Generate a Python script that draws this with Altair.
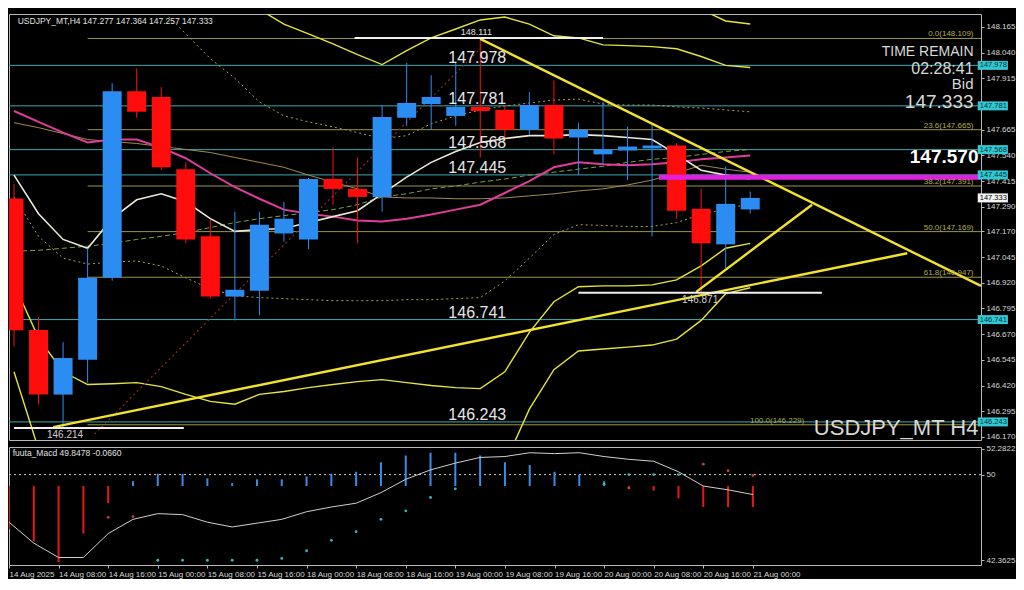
import altair as alt
import pandas as pd

# ---------------- data ----------------
bar_idx = list(range(31))
opens = [147.330, 146.690, 146.376, 146.545, 146.944, 147.852, 147.824, 147.473, 147.146, 146.853,
         146.881, 147.160, 147.131, 147.425, 147.377, 147.338, 147.723, 147.790, 147.732, 147.776,
         147.761, 147.665, 147.785, 147.627, 147.545, 147.564, 147.574, 147.588, 147.280, 147.107, 147.277]
highs = [147.400, 146.752, 146.631, 147.088, 147.891, 147.963, 147.872, 147.506, 147.227, 147.266,
         147.266, 147.314, 147.430, 147.579, 147.530, 147.785, 147.990, 147.930, 147.990, 148.111,
         147.780, 147.848, 147.905, 147.699, 147.800, 147.680, 147.690, 147.600, 147.377, 147.487, 147.364]
lows = [146.610, 146.328, 146.214, 146.434, 146.930, 147.723, 147.468, 147.112, 146.843, 146.737,
        146.761, 147.120, 147.083, 147.300, 147.112, 147.266, 147.684, 147.665, 147.684, 147.530,
        147.620, 147.640, 147.545, 147.444, 147.497, 147.420, 147.146, 147.232, 146.871, 146.992, 147.257]
closes = [146.689, 146.376, 146.554, 146.944, 147.852, 147.752, 147.482, 147.131, 146.853, 146.886,
          147.203, 147.232, 147.425, 147.377, 147.338, 147.727, 147.795, 147.824, 147.776, 147.756,
          147.665, 147.785, 147.622, 147.665, 147.569, 147.583, 147.588, 147.271, 147.112, 147.304, 147.333]

band_up2 = [148.70, 148.72, 148.74, 148.70, 148.62, 148.55, 148.48, 148.42, 148.36, 148.30,
            148.25, 148.179, 148.131, 148.083, 148.030, 147.982, 148.050, 148.112, 148.155, 148.199,
            148.213, 148.179, 148.122, 148.112, 148.078, 148.074, 148.069, 148.059, 148.021, 147.978, 147.968]
band_up3 = [149.10, 149.15, 149.18, 149.12, 149.00, 148.95, 148.90, 148.82, 148.75, 148.68,
            148.60, 148.52, 148.48, 148.45, 148.42, 148.40, 148.42, 148.45, 148.50, 148.54,
            148.56, 148.52, 148.46, 148.43, 148.40, 148.38, 148.36, 148.31, 148.25, 148.194, 148.179]
band_lo2 = [146.915, 146.651, 146.487, 146.425, 146.429, 146.434, 146.415, 146.377, 146.343, 146.329,
            146.377, 146.391, 146.410, 146.425, 146.439, 146.449, 146.434, 146.420, 146.410, 146.405,
            146.487, 146.679, 146.828, 146.901, 146.905, 146.905, 146.910, 146.934, 147.002, 147.088, 147.112]
band_lo3 = [146.487, 146.110, 145.950, 145.900, 145.920, 145.930, 145.920, 145.900, 145.880, 145.860,
            145.900, 145.920, 145.940, 145.950, 145.960, 145.970, 145.960, 145.950, 145.950, 145.960,
            146.040, 146.305, 146.497, 146.588, 146.598, 146.607, 146.617, 146.646, 146.737, 146.867, 146.896]
ma_pink = [147.756, 147.703, 147.651, 147.603, 147.617, 147.617, 147.578, 147.526, 147.453, 147.386,
           147.329, 147.276, 147.256, 147.242, 147.223, 147.218, 147.232, 147.252, 147.276, 147.300,
           147.357, 147.415, 147.482, 147.506, 147.497, 147.492, 147.497, 147.506, 147.521, 147.530, 147.540]
ma_white = [147.444, 147.256, 147.131, 147.088, 147.232, 147.324, 147.353, 147.314, 147.232, 147.170,
            147.179, 147.184, 147.213, 147.242, 147.271, 147.353, 147.434, 147.506, 147.559, 147.603,
            147.622, 147.636, 147.636, 147.641, 147.636, 147.627, 147.617, 147.545, 147.468, 147.444, 147.425]
ma_tan = [147.699, 147.675, 147.646, 147.617, 147.607, 147.598, 147.583, 147.569, 147.554, 147.530,
          147.506, 147.482, 147.444, 147.410, 147.377, 147.338, 147.333, 147.333, 147.329, 147.329,
          147.333, 147.343, 147.353, 147.367, 147.377, 147.396, 147.420, 147.453, 147.492, 147.473, 147.458]
ma_green = [147.074, 147.078, 147.088, 147.098, 147.112, 147.131, 147.146, 147.165, 147.189, 147.213,
            147.232, 147.247, 147.261, 147.276, 147.300, 147.338, 147.353, 147.377, 147.391, 147.410,
            147.425, 147.444, 147.458, 147.473, 147.487, 147.506, 147.521, 147.530, 147.545, 147.559, 147.569]
env_up = [148.70, 148.75, 148.78, 148.70, 148.55, 148.40, 148.252, 148.131, 148.011, 147.915,
          147.800, 147.732, 147.703, 147.679, 147.651, 147.622, 147.636, 147.694, 147.732, 147.761,
          147.780, 147.795, 147.809, 147.814, 147.790, 147.785, 147.785, 147.776, 147.771, 147.761, 147.752]
env_lo = [147.338, 147.146, 147.040, 147.011, 147.021, 147.026, 147.002, 146.944, 146.891, 146.857,
          146.848, 146.843, 146.838, 146.833, 146.833, 146.833, 146.838, 146.838, 146.843, 146.848,
          146.929, 147.040, 147.155, 147.203, 147.199, 147.194, 147.194, 147.213, 147.252, 147.280, 147.304]

macd_hist = [45.16, 44.06, 42.19, 44.74, 47.45, 49.41, 50.08, 50.08, 49.66, 49.24,
             49.58, 49.58, 49.83, 50.08, 50.25, 51.10, 51.70, 51.95, 51.95, 51.70,
             51.10, 50.85, 50.25, 50.00, 49.41, 48.73, 48.56, 47.88, 47.11, 47.11, 47.11]
macd_line = [45.76, 43.89, 42.61, 42.61, 44.74, 46.01, 46.52, 46.43, 45.76, 45.33,
             45.67, 46.01, 46.69, 47.11, 47.45, 48.39, 49.58, 50.42, 51.02, 51.53,
             51.61, 51.95, 51.87, 51.95, 51.61, 51.36, 51.19, 50.25, 48.98, 48.64, 48.22]
macd_base = 48.98
cyan_dot_idx = [6, 7, 8, 9, 10, 11, 12, 13, 14, 15, 16, 17, 18, 24, 25, 26, 27]
cyan_dot_val = [42.36, 42.36, 42.36, 42.36, 42.36, 42.53, 43.21, 44.14, 44.91, 46.01, 46.77, 47.96, 48.73,
                49.15, 50.0, 50.0, 50.0]
red_dot_idx = [4, 5, 25, 28, 29, 30]
red_dot_val = [46.18, 46.26, 48.81, 50.93, 50.34, 49.92]

level_prices = [147.978, 147.781, 147.568, 147.445, 146.741, 146.243]
level_texts = ["147.978", "147.781", "147.568", "147.445", "146.741", "146.243"]
fib_prices = [148.109, 147.665, 147.391, 147.169, 146.947, 146.229]
fib_texts = ["0.0(148.109)", "23.6(147.665)", "38.2(147.391)", "50.0(147.169)", "61.8(146.947)", "100.0(146.229)"]
fib_start, fib_end = 3.0, 40.0

trend_x1 = [19.0, 1.6, 27.8]
trend_x2 = [39.4, 36.4, 32.52]
trend_p1 = [148.107, 146.218, 146.876]
trend_p2 = [146.905, 147.064, 147.300]

white_seg_x1 = [13.88, 0.0, 23.0]
white_seg_x2 = [24.0, 6.92, 32.92]
white_seg_p = [148.111, 146.214, 146.871]
white_seg_t = ["148.111", "146.214", "146.871"]
white_seg_tx = [18.84, 2.08, 27.96]

magenta_x1, magenta_x2, magenta_p = 26.28, 40.0, 147.434
zz_x = [3.28, 19.0]
zz_p = [146.184, 148.059]

price_ticks = [148.165, 148.040, 147.915, 147.665, 147.540, 147.415, 147.290, 147.170, 147.045,
               146.920, 146.795, 146.670, 146.545, 146.420, 146.295, 146.170]
time_labels = ["14 Aug 2025", "14 Aug 08:00", "14 Aug 16:00", "15 Aug 00:00", "15 Aug 08:00",
               "15 Aug 16:00", "18 Aug 00:00", "18 Aug 08:00", "18 Aug 16:00", "19 Aug 00:00",
               "19 Aug 08:00", "19 Aug 16:00", "20 Aug 00:00", "20 Aug 08:00", "20 Aug 16:00", "21 Aug 00:00"]
macd_ticks = [52.2822, 50.0, 42.3625]

header_main = "USDJPY_MT,H4  147.277 147.364 147.257 147.333"
header_macd = "fuuta_Macd 49.8478    -0.0660"
info_texts = ["TIME REMAIN", "02:28:41", "Bid", "147.333"]
info_prices = [148.045, 147.962, 147.887, 147.800]
info_sizes = [14, 16, 15, 19]

tag_prices = level_prices
tag_texts = level_texts
bid_price, bid_text = 147.333, "147.333"

# ---------------- scales / axes ----------------
FONT = "Liberation Sans"
PLOT_W, MAIN_H, MACD_H = 972, 426, 118
xs = alt.Scale(domain=[0, 39.2], nice=False, zero=False)
ys = alt.Scale(domain=[146.155, 148.228], nice=False, zero=False)
ms = alt.Scale(domain=[41.94, 52.46], nice=False, zero=False)

yax = alt.Axis(orient="right", values=price_ticks, format=".3f", title=None, grid=False,
               domain=False, tickSize=3, tickColor="#bbbbbb", labelColor="#d8d8d8",
               labelFontSize=8, labelFont=FONT, labelPadding=2, labelOverlap=False,
               labelBound=False, labelFlush=False)
max_ = alt.Axis(orient="right", values=macd_ticks, format=".4~f", title=None, grid=False,
                domain=False, tickSize=3, tickColor="#bbbbbb", labelColor="#d8d8d8",
                labelFontSize=8, labelFont=FONT, labelPadding=2, labelOverlap=False,
                labelBound=False, labelFlush=False)
lab_expr = "[" + ",".join("'%s'" % s for s in time_labels) + "][round(datum.value/2)]"
xax = alt.Axis(values=list(range(0, 31, 2)), labelExpr=lab_expr, title=None, grid=False,
               domain=False, tickSize=3, tickColor="#bbbbbb", labelColor="#d8d8d8",
               labelFontSize=8, labelFont=FONT, labelAlign="left", labelPadding=2,
               labelOverlap=False, labelBound=False, labelFlush=False)


def MX(f):
    return alt.X(f, type="quantitative", scale=xs, axis=None)


def MY(f):
    return alt.Y(f, type="quantitative", scale=ys, axis=yax)


def line_layer(vals, color, width, dash=None):
    df = pd.DataFrame({"idx": bar_idx, "p": vals})
    kw = dict(color=color, strokeWidth=width, clip=True)
    if dash:
        kw["strokeDash"] = dash
    return alt.Chart(df).mark_line(**kw).encode(x=MX("idx"), y=MY("p"))


def text_layer(df, size, color, align, baseline, dx=0, dy=0, weight="normal"):
    return alt.Chart(df).mark_text(font=FONT, fontSize=size, color=color, align=align,
                                   baseline=baseline, dx=dx, dy=dy, fontWeight=weight).encode(
        x=MX("x"), y=MY("y"), text="t:N")


layers = []

# fibonacci
fib_df = pd.DataFrame({"x": [fib_start] * 6, "x2": [fib_end] * 6, "y": fib_prices, "t": fib_texts})
layers.append(alt.Chart(fib_df).mark_rule(color="#9c9640", strokeWidth=1, clip=True).encode(
    x=MX("x"), x2="x2", y=MY("y")))
# cyan level lines
lvl_df = pd.DataFrame({"y": level_prices, "t": level_texts})
layers.append(alt.Chart(lvl_df).mark_rule(color="#3aa9b0", strokeWidth=1).encode(y=MY("y")))

# indicator lines
layers.append(line_layer(env_up, "#a8a050", 1, [2, 3]))
layers.append(line_layer(env_lo, "#a8a050", 1, [2, 3]))
layers.append(line_layer(ma_green, "#7aa040", 1, [5, 3]))
layers.append(line_layer(ma_tan, "#a08a50", 1))
layers.append(line_layer(band_up2, "#e4e43a", 1.4))
layers.append(line_layer(band_up3, "#e4e43a", 1.4))
layers.append(line_layer(band_lo2, "#e4e43a", 1.4))
layers.append(line_layer(band_lo3, "#e4e43a", 1.4))
layers.append(line_layer(ma_pink, "#e03c9c", 2))
layers.append(line_layer(ma_white, "#ece8d8", 1.6))

# zigzag-like red dotted line
zz_df = pd.DataFrame({"x": [zz_x[0]], "x2": [zz_x[1]], "y": [zz_p[0]], "y2": [zz_p[1]]})
layers.append(alt.Chart(zz_df).mark_rule(color="#8a2a2a", strokeWidth=1.2, strokeDash=[2, 3], clip=True).encode(
    x=MX("x"), x2="x2", y=MY("y"), y2="y2"))

# candles
cdf = pd.DataFrame({"idx": bar_idx, "o": opens, "h": highs, "l": lows, "c": closes})
cdf["dir"] = ["up" if c >= o else "down" for o, c in zip(opens, closes)]
cscale = alt.Scale(domain=["up", "down"], range=["#2b8cf2", "#ff0d0d"])
layers.append(alt.Chart(cdf).mark_rule(strokeWidth=1, clip=True).encode(
    x=MX("idx"), y=MY("l"), y2="h", color=alt.Color("dir:N", scale=cscale, legend=None)))
layers.append(alt.Chart(cdf).mark_bar(width=19, clip=True).encode(
    x=MX("idx"), y=MY("o"), y2="c", color=alt.Color("dir:N", scale=cscale, legend=None)))

# trend lines
tr_df = pd.DataFrame({"x": trend_x1, "x2": trend_x2, "y": trend_p1, "y2": trend_p2})
layers.append(alt.Chart(tr_df).mark_rule(color="#f2e22e", strokeWidth=2.4, clip=True).encode(
    x=MX("x"), x2="x2", y=MY("y"), y2="y2"))

# white horizontal segments
ws_df = pd.DataFrame({"x": white_seg_x1, "x2": white_seg_x2, "y": white_seg_p})
layers.append(alt.Chart(ws_df).mark_rule(color="#f0f0f0", strokeWidth=2, clip=True).encode(
    x=MX("x"), x2="x2", y=MY("y")))

# magenta thick line
mg_df = pd.DataFrame({"x": [magenta_x1], "x2": [magenta_x2], "y": [magenta_p]})
layers.append(alt.Chart(mg_df).mark_rule(color="#e020e0", strokeWidth=5, clip=True).encode(
    x=MX("x"), x2="x2", y=MY("y")))

# texts
layers.append(text_layer(pd.DataFrame({"x": [17.7] * 6, "y": level_prices, "t": level_texts}),
                         16, "#e6e6e6", "left", "alphabetic", dy=-2))
layers.append(text_layer(pd.DataFrame({"x": [39.1] * 5, "y": fib_prices[:5], "t": fib_texts[:5]}),
                         8, "#b4ac48", "right", "alphabetic", dy=-2))
layers.append(text_layer(pd.DataFrame({"x": [32.2], "y": fib_prices[5:], "t": fib_texts[5:]}),
                         8, "#b4ac48", "right", "alphabetic", dy=-2))
layers.append(text_layer(pd.DataFrame({"x": white_seg_tx[:1], "y": white_seg_p[:1], "t": white_seg_t[:1]}),
                         9, "#e0e0e0", "center", "alphabetic", dy=-3))
layers.append(text_layer(pd.DataFrame({"x": white_seg_tx[1:], "y": white_seg_p[1:], "t": white_seg_t[1:]}),
                         10, "#d0d0d0", "center", "top", dy=2))
layers.append(text_layer(pd.DataFrame({"x": [0.15], "y": [148.194], "t": [header_main]}),
                         8.5, "#e0e0e0", "left", "middle"))
for t, p, s in zip(info_texts, info_prices, info_sizes):
    layers.append(text_layer(pd.DataFrame({"x": [39.1], "y": [p], "t": [t]}), s, "#d8d8d8", "right", "middle"))
layers.append(text_layer(pd.DataFrame({"x": [39.3], "y": [147.530], "t": ["147.570"]}),
                         19, "#ffffff", "right", "middle", weight="bold"))
layers.append(text_layer(pd.DataFrame({"x": [39.3], "y": [146.213], "t": ["USDJPY_MT H4"]}),
                         22, "#d8d8d8", "right", "middle"))

# right-side price tags
tag_df = pd.DataFrame({"x": [39.27] * 6, "x2": [40.5] * 6, "y": tag_prices, "t": tag_texts})
layers.append(alt.Chart(tag_df).mark_rule(strokeWidth=9, color="#30c8d2").encode(
    x=MX("x"), x2="x2", y=MY("y")))
layers.append(alt.Chart(tag_df).mark_text(font=FONT, fontSize=7.5, align="left", baseline="middle",
                                          color="#0c3038", dx=2).encode(x=MX("x"), y=MY("y"), text="t:N"))
bid_df = pd.DataFrame({"x": [39.27], "x2": [40.5], "y": [bid_price], "t": [bid_text]})
layers.append(alt.Chart(bid_df).mark_rule(strokeWidth=9, color="#f4f4f4").encode(
    x=MX("x"), x2="x2", y=MY("y")))
layers.append(alt.Chart(bid_df).mark_text(font=FONT, fontSize=7.5, align="left", baseline="middle",
                                          color="#000000", dx=2).encode(x=MX("x"), y=MY("y"), text="t:N"))

main = alt.layer(*layers).properties(width=PLOT_W, height=MAIN_H)

# ---------------- MACD panel ----------------
def NX(f, axis=None):
    return alt.X(f, type="quantitative", scale=xs, axis=axis)


def NY(f):
    return alt.Y(f, type="quantitative", scale=ms, axis=max_)


hdf = pd.DataFrame({"idx": bar_idx, "v": macd_hist, "b": [macd_base] * 31})
hdf["s"] = ["pos" if v >= macd_base else "neg" for v in macd_hist]
hscale = alt.Scale(domain=["pos", "neg"], range=["#3a8ee8", "#e81818"])
m_layers = [
    alt.Chart(pd.DataFrame({"v": [50.0]})).mark_rule(color="#c8c8c8", strokeWidth=1, strokeDash=[2, 3]).encode(
        y=NY("v")),
    alt.Chart(hdf).mark_rule(strokeWidth=2, clip=True).encode(
        x=NX("idx", xax), y=NY("b"), y2="v", color=alt.Color("s:N", scale=hscale, legend=None)),
    alt.Chart(pd.DataFrame({"idx": bar_idx, "v": macd_line})).mark_line(color="#cfcfcf", strokeWidth=1, clip=True).encode(
        x=NX("idx", xax), y=NY("v")),
    alt.Chart(pd.DataFrame({"idx": cyan_dot_idx, "v": cyan_dot_val})).mark_circle(color="#3ab8b8", size=8, opacity=1).encode(
        x=NX("idx", xax), y=NY("v")),
    alt.Chart(pd.DataFrame({"idx": red_dot_idx, "v": red_dot_val})).mark_circle(color="#c83c3c", size=8, opacity=1).encode(
        x=NX("idx", xax), y=NY("v")),
    alt.Chart(pd.DataFrame({"x": [0.15], "y": [51.95], "t": [header_macd]})).mark_text(
        font=FONT, fontSize=8.5, color="#e0e0e0", align="left", baseline="middle").encode(
        x=NX("x", xax), y=NY("y"), text="t:N"),
]
macd = alt.layer(*m_layers).properties(width=PLOT_W, height=MACD_H)

chart = alt.vconcat(main, macd, spacing=2).resolve_scale(
    x="independent", y="independent", color="independent"
).properties(
    padding={"left": 0, "top": 5, "right": 0, "bottom": 0}
).configure(background="#000000").configure_view(stroke="#b8b8b8", strokeWidth=1)

chart.save("out.html", embed_options={"renderer": "svg", "actions": False})
